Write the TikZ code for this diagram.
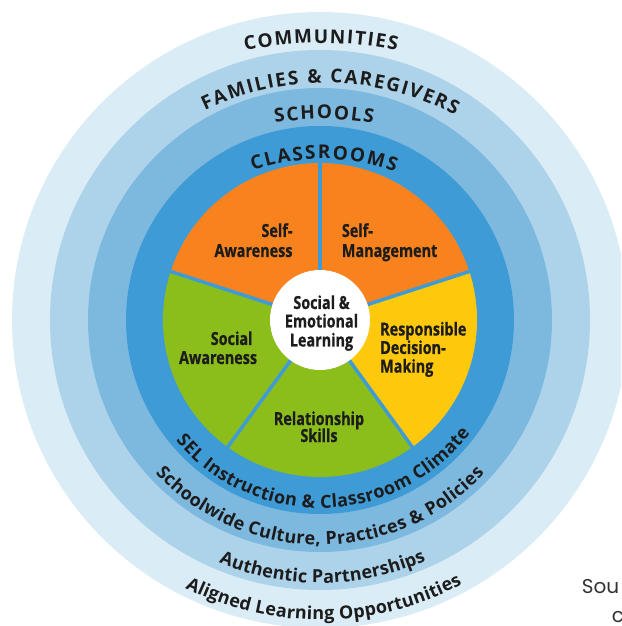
\documentclass[tikz,border=0pt]{standalone}
\usepackage{fontspec}
\setmainfont{Open Sans}
\newfontfamily\openfont{Open Sans}
\newfontfamily\condfont{Open Sans}[FakeStretch=0.8, FakeBold=0.6]
\newfontfamily\srcfont{Poppins}
\usetikzlibrary{decorations.text}
\definecolor{ringA}{HTML}{DAECF5}
\definecolor{ringB}{HTML}{ADD3EA}
\definecolor{ringC}{HTML}{7DB8DF}
\definecolor{ringD}{HTML}{3F9BD5}
\definecolor{sliceO}{HTML}{F7821E}
\definecolor{sliceG}{HTML}{8BBD1B}
\definecolor{sliceY}{HTML}{FEC90D}
\definecolor{ink}{HTML}{1C1C1C}
\definecolor{srcink}{HTML}{333333}
\newcommand\toplab{\openfont\bfseries\fontsize{19}{22}\selectfont\color{ink}}
\newcommand\botlab{\openfont\bfseries\fontsize{18}{21}\selectfont\color{ink}}
\tikzset{
  sep/.style={draw=ringD, line width=3.5pt},
  slicetext/.style={font=\condfont\bfseries\fontsize{18}{20}\selectfont, text=ink, inner sep=0pt},
  srctext/.style={font=\srcfont\fontsize{20}{22}\selectfont, text=srcink, anchor=base west, inner sep=0pt},
  toparc/.style={decorate, decoration={text along path, text align=fit to path, text={|\toplab|#1}}},
  botarc/.style={decorate, decoration={text along path, text align=fit to path, text={|\botlab|#1}}},
}
\begin{document}
\begin{tikzpicture}[x=1pt,y=1pt]
\useasboundingbox (-320,-306) rectangle (301,320);
\clip (-320,-306) rectangle (301,320);
% rings
\fill[ringA] (0,0) circle[radius=308pt];
\fill[ringB] (0,0) circle[radius=270pt];
\fill[ringC] (0,0) circle[radius=232pt];
\fill[ringD] (0,0) circle[radius=194pt];
% pie slices
\coordinate (c) at (0,0);
\fill[sliceO] (c) -- (90:157pt) arc[start angle=90, end angle=162, radius=157pt] -- cycle;
\fill[sliceO] (c) -- (18:157pt) arc[start angle=18, end angle=90, radius=157pt] -- cycle;
\fill[sliceY] (c) -- (-54:157pt) arc[start angle=-54, end angle=18, radius=157pt] -- cycle;
\fill[sliceG] (c) -- (-126:157pt) arc[start angle=-126, end angle=-54, radius=157pt] -- cycle;
\fill[sliceG] (c) -- (162:157pt) arc[start angle=162, end angle=234, radius=157pt] -- cycle;
\coordinate (e1) at (90:160pt);
\coordinate (e2) at (18:160pt);
\coordinate (e3) at (-54:160pt);
\coordinate (e4) at (-126:160pt);
\coordinate (e5) at (162:160pt);
\draw[sep] (c) -- (e1);
\draw[sep] (c) -- (e2);
\draw[sep] (c) -- (e3);
\draw[sep] (c) -- (e4);
\draw[sep] (c) -- (e5);
\fill[white] (c) circle[radius=50pt];
% center text
\node[slicetext, anchor=base] (sel1) at (1.5,11) {Social \&};
\node[slicetext, anchor=base] (sel2) at (1.5,-7.5) {Emotional};
\node[slicetext, anchor=base] (sel3) at (1.5,-26.5) {Learning};
% slice texts
\node[slicetext, anchor=base east] (saw1) at (-27.3,83) {Self-};
\node[slicetext, anchor=base east] (saw2) at (-27.3,63) {Awareness};
\node[slicetext, anchor=base west] (smg1) at (21.7,83) {Self-};
\node[slicetext, anchor=base west] (smg2) at (21.7,63) {Management};
\node[slicetext, anchor=base west] (rdm1) at (60,-15.5) {Responsible};
\node[slicetext, anchor=base west] (rdm2) at (60,-34) {Decision-};
\node[slicetext, anchor=base west] (rdm3) at (60,-52.6) {Making};
\node[slicetext, anchor=base] (rel1) at (-1,-105) {Relationship};
\node[slicetext, anchor=base] (rel2) at (-1,-122) {Skills};
\node[slicetext, anchor=base east] (soc1) at (-67.3,-25) {Social};
\node[slicetext, anchor=base east] (soc2) at (-62.7,-44) {Awareness};
% top ring labels
\path[toparc={COMMUNITIES}] ([shift={(1,-103)}]101.5:380pt) arc[start angle=101.5, end angle=78.5, radius=380pt];
\path[toparc={FAMILIES {\&} CAREGIVERS}] ([shift={(5,-43)}]115.4:280pt) arc[start angle=115.4, end angle=62.3, radius=280pt];
\path[toparc={SCHOOLS}] ([shift={(2,-89)}]99.3:290pt) arc[start angle=99.3, end angle=79.9, radius=290pt];
\path[toparc={CLASSROOMS}] ([shift={(3,-49)}]109.5:210pt) arc[start angle=109.5, end angle=69.95, radius=210pt];
% bottom ring labels
\path[botarc={SEL Instruction {\&} Classroom Climate}] (-140:188pt) arc[start angle=-140, end angle=-37, radius=188pt];
\path[botarc={Schoolwide Culture, Practices {\&} Policies}] (-137:225pt) arc[start angle=-137, end angle=-43, radius=225pt];
\path[botarc={Authentic Partnerships}] (-112.6:263pt) arc[start angle=-112.6, end angle=-66.2, radius=263pt];
\path[botarc={Aligned Learning Opportunities}] (-116.7:300pt) arc[start angle=-116.7, end angle=-61.7, radius=300pt];
% cut-off source caption
\node[srctext] (src1) at (261.7,-273) {Sou};
\node[srctext] (src2) at (291.7,-302) {c};
\end{tikzpicture}
\end{document}
